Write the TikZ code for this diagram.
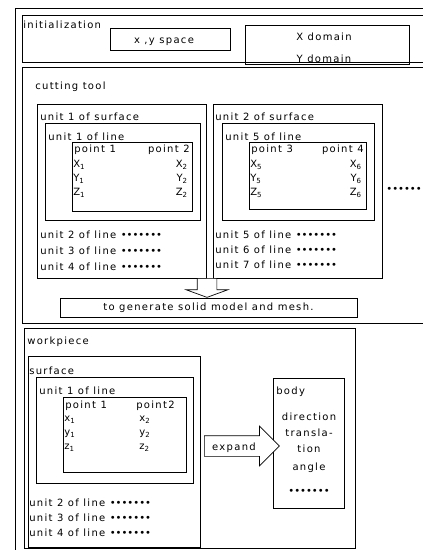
\documentclass[tikz,border=0pt]{standalone}
\usepackage{fontspec}
\setmainfont{DejaVu Sans}[LetterSpace=13]
\usetikzlibrary{positioning, fit, shapes.arrows}
\newcommand{\bulletrow}[1]{{\addfontfeature{LetterSpace=0}#1}}

\begin{document}
\begin{tikzpicture}[x=1pt, y=-1pt, line width=0.7pt,
    every node/.style={font=\fontsize{10}{12}\selectfont}]
    \useasboundingbox (0,0) rectangle (423,550);
    \clip (0,0) rectangle (423,550);

    % Define styles
    \tikzset{
        frame/.style={draw, rectangle, inner sep=0pt},
        lbl/.style={anchor=west, inner sep=0pt},
        rlbl/.style={anchor=east, inner sep=0pt},
        hollow/.style={draw, single arrow, inner sep=0pt, fill=white, text width=0pt}
    }

    % Define frames
	\node[frame, fit={(15,8) (440,560)}] (Outer) {};
	\node[frame, fit={(22,15) (440,62)}] (Init) {};
	\node[frame, fit={(110,28) (230,50)}] (XYSpace) {};
	\node[frame, fit={(245,25) (409,64)}] (Domain) {};
	\node[frame, fit={(22,67) (440,323)}] (Cutting) {};
	\node[frame, fit={(37,104) (206,278)}] (SurfA) {};
	\node[frame, fit={(45,123) (200,220)}] (LineA) {};
	\node[frame, fit={(72,142) (192,211)}] (PointA) {};
	\node[frame, fit={(213,104) (382,278)}] (SurfB) {};
	\node[frame, fit={(222,123) (374,220)}] (LineB) {};
	\node[frame, fit={(249,142) (366,209)}] (PointB) {};
	\node[frame, fit={(60,298) (357,317)}] (Generate) {};
	\node[frame, fit={(24,328) (355,548)}] (Workpiece) {};
	\node[frame, fit={(28,356) (200,547)}] (Surface) {};
	\node[frame, fit={(36,377) (193,483)}] (LineW) {};
	\node[frame, fit={(63,397) (186,472)}] (PointW) {};
	\node[frame, fit={(273,378) (344,508)}] (Body) {};

    % Initialization
	\node[lbl] (InitText) at (23,25) {initialization};
	\node (XYText) at (164,42) {x ,y space};
	\node (XDomain) at (324,37) {X domain};
	\node (YDomain) at (324,59) {Y domain};

    % Cutting tool
	\node[lbl] (CuttingText) at (35,87) {cutting tool};
	\node[lbl] (SurfAText) at (40,117) {unit 1 of surface};
	\node[lbl] (LineAText) at (48,137) {unit 1 of line};
	\node[lbl] (PointOne) at (74,150) {point 1};
	\node[rlbl] (PointTwo) at (190,150) {point 2};
	\node[lbl] (XOne) at (73,165) {X\textsubscript{1}};
	\node[lbl] (YOne) at (73,179) {Y\textsubscript{1}};
	\node[lbl] (ZOne) at (73,193) {Z\textsubscript{1}};
	\node[rlbl] (XTwo) at (188,165) {X\textsubscript{2}};
	\node[rlbl] (YTwo) at (188,179) {Y\textsubscript{2}};
	\node[rlbl] (ZTwo) at (188,193) {Z\textsubscript{2}};
	\node[lbl] (UnitTwo) at (40,235) {unit 2 of line \bulletrow{•••••••}};
	\node[lbl] (UnitThree) at (40,251) {unit 3 of line \bulletrow{•••••••}};
	\node[lbl] (UnitFour) at (40,267) {unit 4 of line \bulletrow{•••••••}};

	\node[lbl] (SurfBText) at (215,117) {unit 2 of surface};
	\node[lbl] (LineBText) at (225,137) {unit 5 of line};
	\node[lbl] (PointThree) at (251,150) {point 3};
	\node[rlbl] (PointFour) at (364,150) {point 4};
	\node[lbl] (XFive) at (250,165) {X\textsubscript{5}};
	\node[lbl] (YFive) at (250,179) {Y\textsubscript{5}};
	\node[lbl] (ZFive) at (250,193) {Z\textsubscript{5}};
	\node[rlbl] (XSix) at (362,165) {X\textsubscript{6}};
	\node[rlbl] (YSix) at (362,179) {Y\textsubscript{6}};
	\node[rlbl] (ZSix) at (362,193) {Z\textsubscript{6}};
	\node[lbl] (UnitFive) at (215,235) {unit 5 of line \bulletrow{•••••••}};
	\node[lbl] (UnitSix) at (215,250) {unit 6 of line \bulletrow{•••••••}};
	\node[lbl] (UnitSeven) at (215,265) {unit 7 of line \bulletrow{•••••••}};
	\node[lbl] (More) at (386,190) {\bulletrow{••••••}};

	\node[hollow, rotate=-90, anchor=tail, minimum height=19pt, text height=9.5pt, text depth=9.5pt,
	      single arrow head extend=11pt, single arrow tip angle=140] (Down) at (207,278) {};
	\node (GenerateText) at (Generate.center) {to generate solid model and mesh.};

    % Workpiece
	\node[lbl] (WorkText) at (27,342) {workpiece};
	\node[lbl] (SurfText) at (29,371) {surface};
	\node[lbl] (LineWText) at (39,391) {unit 1 of line};
	\node[lbl] (PointOneW) at (65,406) {point 1};
	\node[lbl] (PointTwoW) at (136,406) {point2};
	\node[lbl] (XOneW) at (64,420) {x\textsubscript{1}};
	\node[lbl] (YOneW) at (64,434) {y\textsubscript{1}};
	\node[lbl] (ZOneW) at (64,448) {z\textsubscript{1}};
	\node[lbl] (XTwoW) at (139,420) {x\textsubscript{2}};
	\node[lbl] (YTwoW) at (139,434) {y\textsubscript{2}};
	\node[lbl] (ZTwoW) at (139,448) {z\textsubscript{2}};
	\node[lbl] (UnitTwoW) at (29,503) {unit 2 of line \bulletrow{•••••••}};
	\node[lbl] (UnitThreeW) at (29,518) {unit 3 of line \bulletrow{•••••••}};
	\node[lbl] (UnitFourW) at (29,533) {unit 4 of line \bulletrow{•••••••}};

	\node[hollow, anchor=tail, minimum height=75pt, text height=14.5pt, text depth=5.5pt,
	      single arrow head extend=9.5pt] (Expand) at (204,446) {};
	\node (ExpandText) at (234,448) {expand};

	\node[lbl] (BodyText) at (276,392) {body};
	\node (Direction) at (309,417) {direction};
	\node (Transla) at (309,433) {transla-};
	\node (Tion) at (309,449) {tion};
	\node (Angle) at (309,468) {angle};
	\node (BodyMore) at (309,492) {\bulletrow{•••••••}};
\end{tikzpicture}
\end{document}
